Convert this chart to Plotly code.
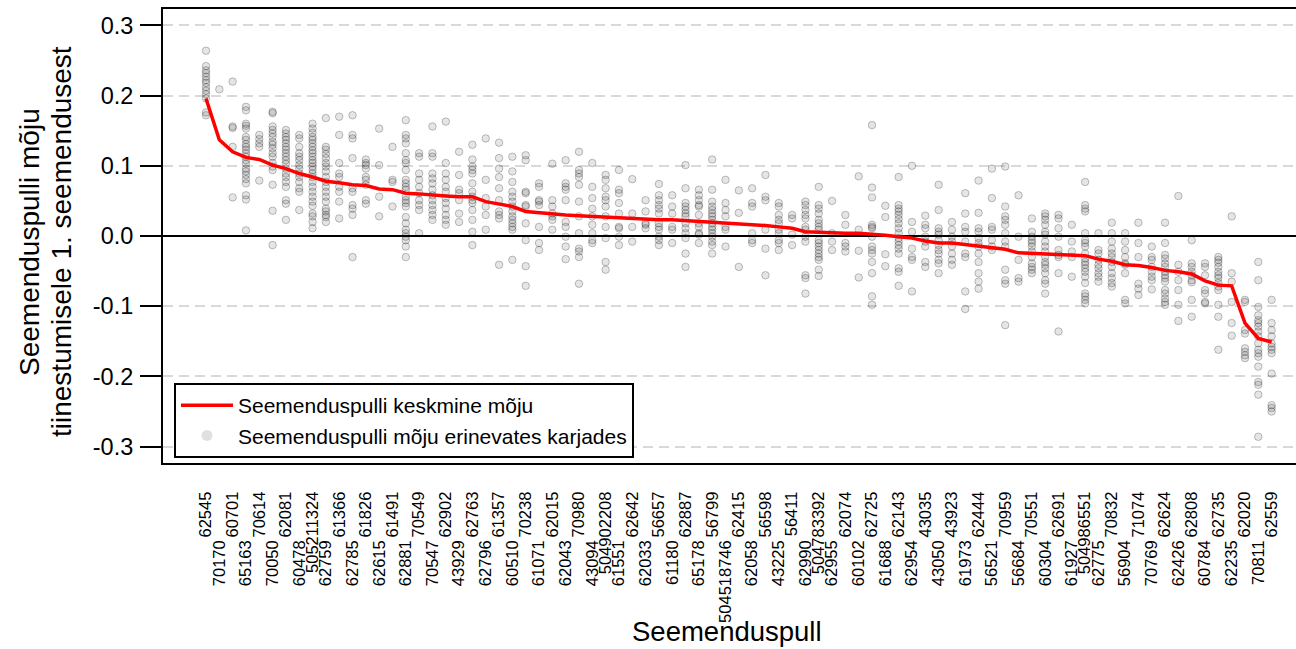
import plotly.graph_objects as go

bulls = ["62545","70170","60701","65163","70614","70050","62081","60478","505211324","62759",
         "61366","62785","61826","62615","61491","62881","70549","70547","62902","43929",
         "62763","62796","61357","60510","70238","61071","62015","62043","70980","43094",
         "504902208","61551","62642","62033","56657","61180","62887","65178","56799","504518746",
         "62415","62058","56598","43225","56411","62990","504783392","62955","62074","60102",
         "62725","61688","62143","62954","43035","43050","43923","61973","62444","56521",
         "70959","56684","70551","60304","62691","61927","504986551","62775","70832","56904",
         "71074","70769","62624","62426","62808","60784","62735","62235","62020","70811","62559"]

mean_effect = [0.196,0.137,0.120,0.112,0.109,0.101,0.096,0.089,0.084,0.078,
               0.076,0.073,0.072,0.067,0.066,0.061,0.060,0.058,0.057,0.056,
               0.056,0.049,0.046,0.042,0.035,0.033,0.032,0.030,0.029,0.028,
               0.026,0.025,0.025,0.024,0.023,0.023,0.022,0.021,0.020,0.019,
               0.017,0.016,0.015,0.013,0.011,0.006,0.005,0.004,0.004,0.004,
               0.003,0.001,-0.001,-0.003,-0.007,-0.010,-0.010,-0.012,-0.015,-0.016,
               -0.019,-0.024,-0.025,-0.025,-0.026,-0.027,-0.028,-0.033,-0.036,-0.041,
               -0.042,-0.045,-0.049,-0.051,-0.054,-0.064,-0.070,-0.071,-0.124,-0.146,-0.151]

herd_effects = [
    [0.264,0.242,0.236,0.232,0.227,0.222,0.218,0.212,0.207,0.202,0.196,0.176,0.172],
    [0.209],
    [0.220,0.156,0.154,0.127,0.055],
    [0.184,0.179,0.160,0.157,0.153,0.141,0.137,0.131,0.127,0.123,0.118,0.113,0.108,0.103,0.096,0.092,0.087,0.081,0.075,0.058,0.052,0.008],
    [0.144,0.138,0.132,0.127,0.079],
    [0.177,0.175,0.156,0.151,0.146,0.141,0.134,0.130,0.125,0.118,0.113,0.104,0.099,0.094,0.073,0.036,-0.013],
    [0.151,0.146,0.141,0.137,0.132,0.127,0.123,0.118,0.113,0.108,0.103,0.096,0.089,0.084,0.077,0.070,0.051,0.046,0.023],
    [0.144,0.139,0.127,0.118,0.113,0.108,0.101,0.096,0.089,0.084,0.077,0.068,0.063,0.037],
    [0.160,0.153,0.147,0.141,0.137,0.132,0.127,0.122,0.118,0.113,0.108,0.104,0.099,0.094,0.089,0.084,0.077,0.070,0.063,0.056,0.049,0.043,0.032,0.028,0.020,0.011],
    [0.168,0.127,0.123,0.117,0.111,0.104,0.099,0.092,0.084,0.077,0.070,0.063,0.056,0.049,0.039,0.035,0.030,0.027,0.020],
    [0.170,0.144,0.104,0.089,0.084,0.070,0.063,0.049,0.025],
    [0.172,0.144,0.139,0.111,0.068,0.063,0.044,0.039,0.030,-0.030],
    [0.109,0.104,0.101,0.096,0.084,0.080,0.073,0.051,0.046],
    [0.153,0.101,0.056,0.028],
    [0.127,0.080,0.077,0.042],
    [0.165,0.144,0.139,0.132,0.118,0.108,0.104,0.094,0.080,0.075,0.070,0.066,0.056,0.051,0.047,0.042,0.027,0.018,0.009,0.004,-0.001,-0.006,-0.015,-0.030],
    [0.118,0.113,0.089,0.080,0.070,0.061,0.051,0.044,0.037,0.004],
    [0.156,0.118,0.113,0.089,0.082,0.075,0.066,0.058,0.051,0.044,0.037,0.030,0.023],
    [0.163,0.104,0.089,0.080,0.070,0.063,0.054,0.047,0.039,0.030,0.023,0.016],
    [0.120,0.087,0.066,0.061,0.051,0.032,0.020],
    [0.130,0.109,0.099,0.094,0.089,0.075,0.063,0.056,0.051,0.047,0.037,0.023,0.006,-0.013],
    [0.139,0.080,0.054,0.042,0.030,0.009],
    [0.133,0.111,0.096,0.084,0.068,0.051,0.035,0.030,0.025,-0.041],
    [0.113,0.092,0.077,0.063,0.056,0.049,0.042,0.035,0.028,0.023,0.018,0.013,0.009,-0.034],
    [0.115,0.108,0.063,0.061,0.044,0.042,0.018,-0.006,-0.043,-0.071],
    [0.075,0.070,0.051,0.049,0.044,0.013,-0.010,-0.020],
    [0.103,0.051,0.042,0.032,0.028,0.023,0.009],
    [0.108,0.075,0.070,0.066,0.051,0.020,0.013,-0.001,-0.015,-0.033],
    [0.120,0.094,0.089,0.084,0.073,0.049,0.028,0.004,-0.018,-0.022,-0.030,-0.068],
    [0.104,0.070,0.054,0.039,0.028,0.016,0.004,-0.006,-0.010],
    [0.087,0.080,0.068,0.056,0.051,0.042,0.028,0.013,-0.003,-0.037,-0.048],
    [0.094,0.066,0.061,0.047,0.032,0.013,0.011,-0.001,-0.013],
    [0.081,0.032,0.013,-0.008],
    [0.051,0.035,0.018,0.016,0.011],
    [0.074,0.058,0.051,0.044,0.039,0.032,0.018,0.013,0.009,-0.001,-0.006,-0.013],
    [0.058,0.042,0.032,0.013,0.009,-0.010],
    [0.101,0.068,0.047,0.042,0.037,0.032,0.028,0.018,0.011,0.004,-0.003,-0.025,-0.044],
    [0.066,0.058,0.051,0.044,0.042,0.030,0.018,0.013,0.004,0.002,-0.010],
    [0.109,0.066,0.049,0.042,0.037,0.032,0.028,0.023,0.018,0.013,0.009,0.004,-0.001,-0.008,-0.013,-0.025],
    [0.080,0.047,0.037,0.028,0.013,0.009,-0.015],
    [0.065,0.033,-0.044],
    [0.068,0.047,0.042,0.004,-0.006,-0.010],
    [0.087,0.056,0.051,0.009,-0.018,-0.056],
    [0.047,0.042,0.030,0.023,0.018,0.009,0.004,-0.006,-0.010,-0.020],
    [0.030,0.025,0.002,-0.013],
    [0.049,0.044,0.037,0.030,0.025,0.013,0.009,-0.001,-0.008,-0.056,-0.060,-0.082],
    [0.070,0.044,0.039,0.032,0.023,0.018,0.013,0.009,-0.006,-0.010,-0.015,-0.020,-0.025,-0.030,-0.034,-0.048,-0.057],
    [0.050,0.004,-0.008,-0.020],
    [0.030,0.016,-0.010,-0.015,-0.022],
    [0.085,0.009,-0.021,-0.059],
    [0.158,0.069,0.055,0.016,0.013,0.011,-0.001,-0.015,-0.020,-0.025,-0.037,-0.053,-0.086,-0.098],
    [0.043,0.027,-0.026,-0.043],
    [0.084,0.044,0.039,0.035,0.030,0.024,0.018,0.011,0.004,-0.003,-0.008,-0.013,-0.018,-0.025,-0.046,-0.051,-0.071],
    [0.100,0.020,0.006,-0.018,-0.030,-0.034,-0.079],
    [0.029,0.016,0.011,-0.001,-0.008,-0.015,-0.037,-0.044],
    [0.073,0.037,0.011,0.006,0.002,-0.006,-0.013,-0.020,-0.025,-0.034,-0.039,-0.053],
    [0.020,0.009,-0.001,-0.008,-0.015,-0.025,-0.034,-0.041],
    [0.061,0.032,0.013,0.006,-0.008,-0.025,-0.030,-0.079,-0.104],
    [0.079,0.033,0.011,0.006,-0.003,-0.010,-0.015,-0.025,-0.037,-0.053,-0.065,-0.075],
    [0.096,0.054,0.013,0.009,-0.006,-0.015,-0.020],
    [0.099,0.042,0.028,0.023,0.016,0.004,-0.008,-0.015,-0.048,-0.063,-0.068,-0.127],
    [0.058,-0.001,-0.034,-0.060,-0.065],
    [0.025,0.006,-0.001,-0.006,-0.010,-0.015,-0.022,-0.030,-0.039,-0.044,-0.048,-0.053],
    [0.032,0.028,0.023,0.016,0.006,0.002,-0.008,-0.015,-0.022,-0.030,-0.037,-0.041,-0.046,-0.053,-0.063,-0.068,-0.082],
    [0.030,0.025,0.011,-0.001,-0.020,-0.027,-0.030,-0.053,-0.136],
    [0.016,-0.008,-0.022,-0.030,-0.058],
    [0.077,0.044,0.039,0.035,0.004,-0.006,-0.010,-0.015,-0.025,-0.032,-0.037,-0.041,-0.046,-0.051,-0.058,-0.067,-0.082,-0.086,-0.091,-0.096],
    [0.004,-0.020,-0.025,-0.034,-0.041,-0.046,-0.053,-0.058,-0.065],
    [0.019,0.004,-0.008,-0.018,-0.025,-0.030,-0.037,-0.044,-0.053,-0.060,-0.067,-0.072],
    [0.004,-0.008,-0.020,-0.030,-0.039,-0.041,-0.053,-0.091,-0.096],
    [0.019,-0.010,-0.030,-0.068,-0.075,-0.084],
    [-0.015,-0.030,-0.034,-0.044,-0.051,-0.058,-0.063,-0.076],
    [0.019,-0.010,-0.027,-0.032,-0.039,-0.044,-0.051,-0.056,-0.060,-0.065,-0.077,-0.082,-0.089,-0.094,-0.098],
    [0.057,-0.041,-0.051,-0.063,-0.077,-0.098,-0.121],
    [-0.006,-0.039,-0.044,-0.051,-0.056,-0.063,-0.066,-0.091,-0.115],
    [-0.039,-0.044,-0.056,-0.077,-0.082,-0.094,-0.096],
    [-0.030,-0.034,-0.038,-0.044,-0.051,-0.056,-0.060,-0.067,-0.072,-0.077,-0.098,-0.115,-0.162],
    [0.028,-0.053,-0.065,-0.094,-0.124,-0.142],
    [-0.091,-0.094,-0.134,-0.139,-0.160,-0.165,-0.170,-0.174],
    [-0.037,-0.063,-0.101,-0.113,-0.120,-0.124,-0.129,-0.136,-0.143,-0.153,-0.162,-0.167,-0.172,-0.186,-0.208,-0.212,-0.226,-0.286],
    [-0.091,-0.124,-0.134,-0.143,-0.153,-0.158,-0.162,-0.167,-0.196,-0.241,-0.245,-0.250],
]

y_ticks = [0.3, 0.2, 0.1, 0.0, -0.1, -0.2, -0.3]
y_ticktext = ["0.3", "0.2", "0.1", "0.0", "-0.1", "-0.2", "-0.3"]

FONT = "Liberation Sans, Arial, Helvetica, sans-serif"

idx = list(range(len(bulls)))
px_ = [i for i, vals in enumerate(herd_effects) for _ in vals]
py_ = [v for vals in herd_effects for v in vals]

fig = go.Figure()
fig.add_trace(go.Scatter(
    x=px_, y=py_, mode="markers", showlegend=False,
    marker=dict(size=7.5, color="rgba(0,0,0,0.10)",
                line=dict(color="rgba(0,0,0,0.24)", width=1)),
    hoverinfo="skip"))
fig.add_trace(go.Scatter(
    x=idx, y=mean_effect, mode="lines", name="Seemenduspulli keskmine mõju",
    line=dict(color="#ff0000", width=3.5)))
fig.add_trace(go.Scatter(
    x=[None], y=[None], mode="markers", xaxis="x2",
    name="Seemenduspulli mõju erinevates karjades",
    marker=dict(size=11, color="#e0e0e0")))

xr = [-3.228, 81.83]
even = idx[0::2]
odd = idx[1::2]

fig.update_layout(
    width=1296, height=649,
    margin=dict(l=163, r=0, t=9, b=186),
    paper_bgcolor="white", plot_bgcolor="white",
    font=dict(family=FONT, color="black"),
    xaxis=dict(range=xr, tickmode="array", tickvals=even,
               ticktext=[bulls[i] for i in even], tickangle=-90,
               ticks="", showgrid=False, zeroline=False,
               showline=True, mirror=True, linecolor="black", linewidth=2,
               tickfont=dict(size=16.5, family=FONT, color="black"),
               ticklabelstandoff=20),
    xaxis2=dict(range=xr, overlaying="x", anchor="y", side="bottom",
                tickmode="array", tickvals=odd,
                ticktext=[bulls[i] for i in odd], tickangle=-90,
                ticks="", showgrid=False, zeroline=False, showline=False,
                tickfont=dict(size=16.5, family=FONT, color="black"),
                ticklabelstandoff=73),
    yaxis=dict(range=[-0.3234, 0.3234], tickmode="array", tickvals=y_ticks,
               ticktext=y_ticktext, ticks="outside", ticklen=21, tickwidth=1.5,
               tickcolor="black", showline=True, linecolor="black", linewidth=2,
               showgrid=True, gridcolor="#d9d9d9", griddash="10px,6px", gridwidth=1.5,
               zeroline=True, zerolinecolor="black", zerolinewidth=1.6,
               tickfont=dict(size=23.5, family=FONT, color="black"),
               ticklabelstandoff=2),
    legend=dict(x=0.0097, y=0.1762, xanchor="left", yanchor="top",
                bordercolor="black", borderwidth=2, bgcolor="white",
                font=dict(size=21, family=FONT, color="black"),
                itemwidth=52, tracegroupgap=0),
    annotations=[
        dict(text="Seemenduspulli mõju", textangle=-90, xref="paper", yref="paper",
             x=(29 - 163) / 1133, y=(463 - 242) / 454, xanchor="center", yanchor="middle",
             showarrow=False, font=dict(size=28, family=FONT, color="black")),
        dict(text="tiinestumisele 1. seemendusest", textangle=-90, xref="paper", yref="paper",
             x=(61 - 163) / 1133, y=(463 - 242) / 454, xanchor="center", yanchor="middle",
             showarrow=False, font=dict(size=28, family=FONT, color="black")),
        dict(text="Seemenduspull", xref="paper", yref="paper",
             x=(727 - 163) / 1133, y=(463 - 614) / 454, xanchor="center", yanchor="top",
             showarrow=False, font=dict(size=27.5, family=FONT, color="black")),
    ],
)

fig.write_html("out.html")
